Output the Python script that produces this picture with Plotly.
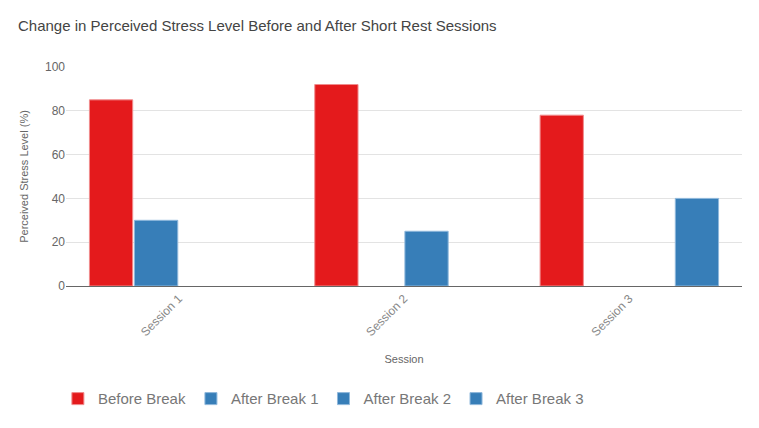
import plotly.graph_objects as go

sessions = ["Session 1", "Session 2", "Session 3"]
series_names = ["Before Break", "After Break 1", "After Break 2", "After Break 3"]
before_break = [85, 92, 78]
after_break_1 = [30, None, None]
after_break_2 = [None, 25, None]
after_break_3 = [None, None, 40]
colors = ["#e41a1c", "#377eb8", "#377eb8", "#377eb8"]
line_colors = ["#f08c8d", "#8fb8dc", "#8fb8dc", "#8fb8dc"]

# page body has an 8px default margin; figure is sized to fit the window exactly
W, H = 751, 420

fig = go.Figure()
for name, vals, c, lc in zip(series_names,
                             [before_break, after_break_1, after_break_2, after_break_3],
                             colors, line_colors):
    fig.add_trace(go.Bar(x=sessions, y=vals, name=name,
                         marker=dict(color=c, line=dict(color=lc, width=1))))

fig.update_layout(
    width=W, height=H,
    barmode="group", bargap=0.2, bargroupgap=0.04,
    margin=dict(l=58, r=17, t=59, b=134),
    paper_bgcolor="white", plot_bgcolor="white",
    font=dict(family="Liberation Sans, Arial, sans-serif", color="#666666", size=12),
    title=dict(text="Change in Perceived Stress Level Before and After Short Rest Sessions",
               x=10 / W, xanchor="left", y=1 - 18 / H, yanchor="middle",
               font=dict(size=15, color="#444444")),
    legend=dict(orientation="h", x=-0.012, xanchor="left", y=-0.44, yanchor="top",
                font=dict(size=15, color="#777777"), itemwidth=30, traceorder="normal"),
    xaxis=dict(tickangle=-45, showline=True, linecolor="#666666", linewidth=1,
               ticks="", tickfont=dict(size=12, color="#888888"), automargin=False,
               title=dict(text="Session", font=dict(size=11, color="#666666"), standoff=17)),
    yaxis=dict(range=[0, 100], dtick=20, gridcolor="#e3e3e3", zeroline=False,
               tickfont=dict(size=12, color="#666666"), automargin=False,
               title=dict(text="Perceived Stress Level (%)", font=dict(size=11, color="#666666"), standoff=14)),
)

fig.write_html("out.html", config={"displayModeBar": False})
